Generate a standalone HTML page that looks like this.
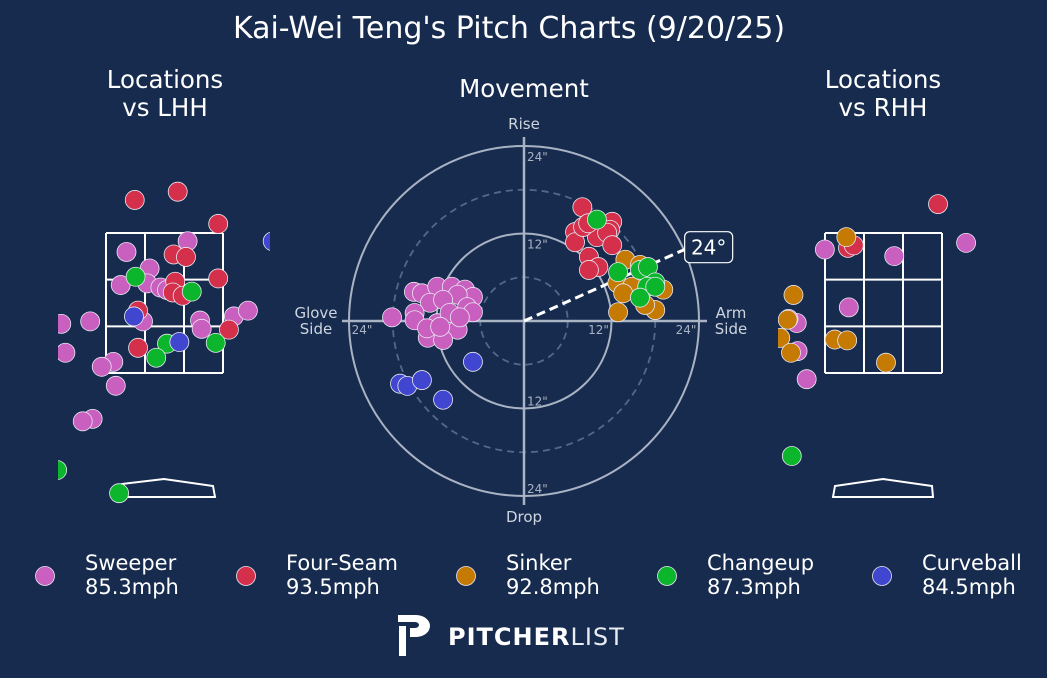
<!DOCTYPE html>
<html><head><meta charset="utf-8"><style>
body{margin:0;background:#162b4e;width:1047px;height:673px;overflow:hidden;font-family:"Liberation Sans","DejaVu Sans",sans-serif}
svg text{font-family:"DejaVu Sans","Liberation Sans",sans-serif}
</style></head><body>
<svg id="c" width="1047" height="673" viewBox="0 0 1047 673">
<defs>
<clipPath id="clipL"><rect x="58" y="130" width="212" height="400"/></clipPath>
<clipPath id="clipR"><rect x="778" y="130" width="215" height="400"/></clipPath>
</defs>
<text x="509" y="38" fill="#fff" font-size="30" text-anchor="middle">Kai-Wei Teng's Pitch Charts (9/20/25)</text>
<text x="165" y="88" fill="#fff" font-size="24.5" text-anchor="middle">Locations</text>
<text x="165" y="116" fill="#fff" font-size="24.5" text-anchor="middle">vs LHH</text>
<text x="883" y="88" fill="#fff" font-size="24.5" text-anchor="middle">Locations</text>
<text x="883" y="116" fill="#fff" font-size="24.5" text-anchor="middle">vs RHH</text>
<text x="524" y="97" fill="#fff" font-size="24.5" text-anchor="middle">Movement</text>
<g id="mov"></g>
<g id="locL" clip-path="url(#clipL)"></g>
<g id="locR" clip-path="url(#clipR)"></g>
<g id="legend"></g>
<g>
<path d="M398 615 h18 a14 11 0 0 1 0 22 h-6 v-9 h5 a4 3 0 0 0 0 -6 h-17 z M399 626 h7 v30 h-7 z" fill="#fff"/>
<text x="448" y="645" fill="#fff" font-size="24" font-weight="bold" letter-spacing="1">PITCHER<tspan font-weight="normal" fill="#e8ecf2">LIST</tspan></text>
</g>
</svg>
<script>
const NS="http://www.w3.org/2000/svg";
const pitchTypes=["Sweeper","Four-Seam","Sinker","Changeup","Curveball"];
const pitchSpeeds=["85.3mph","93.5mph","92.8mph","87.3mph","84.5mph"];
const pitchColors=["#c95fbf","#d4304b","#c47a03","#0bb52c","#4046d0"];
// movement in inches [horizontal, vertical]
const movSweeper=[[-18.1,0.5],[-15.1,4.0],[-14.0,3.8],[-11.9,4.7],[-9.9,4.7],[-8.1,4.3],[-7.0,3.3],[-9.1,3.6],[-12.9,2.5],[-11.1,2.9],[-15.0,1.1],[-15.0,0.1],[-11.9,-0.3],[-10.2,1.1],[-7.8,1.9],[-7.0,1.2],[-9.1,-1.2],[-13.2,-2.3],[-11.1,-2.6],[-13.3,-1.0],[-11.5,-0.8],[-8.8,0.5]];
const movFourSeam=[[8.0,15.6],[12.1,13.6],[11.8,12.5],[7.0,12.2],[7.0,10.8],[10.0,11.5],[11.4,12.1],[8.1,12.9],[12.1,10.4],[8.9,8.8],[10.2,7.4],[8.9,7.0],[8.8,13.4]];
const movSinker=[[13.9,8.4],[15.9,7.7],[12.8,5.2],[14.8,4.7],[13.6,3.8],[19.1,4.3],[12.9,1.2],[18.0,1.5],[16.6,2.2]];
const movChangeup=[[10.0,13.9],[12.9,6.7],[15.9,7.0],[17.0,7.4],[18.0,5.3],[16.9,4.7],[15.9,3.2],[18.0,4.7]];
const movCurveball=[[-7.0,-5.6],[-17.0,-8.6],[-16.0,-8.9],[-14.0,-8.1],[-11.1,-10.8]];
const armAngle=24;
const ringTicks=["12\"","24\""];
// locations in feet [plate_x, plate_z]
const lhhSweeper=[[0.28,3.3],[-0.46,3.17],[-0.18,2.97],[-0.21,2.79],[-0.53,2.77],[-0.05,2.74],[0.03,2.71],[-1.25,2.3],[-0.9,2.33],[-0.26,2.33],[0.43,2.34],[0.45,2.24],[0.84,2.39],[1.01,2.46],[-1.2,1.95],[-0.62,1.84],[-0.76,1.78],[-0.59,1.55],[-0.87,1.15],[-0.99,1.12]];
const lhhFourSeam=[[-0.36,3.8],[0.16,3.9],[0.65,3.51],[0.11,3.14],[0.26,3.11],[0.65,2.85],[0.13,2.81],[0.1,2.68],[0.22,2.64],[-0.32,2.46],[0.78,2.23],[-0.32,2.01]];
const lhhSinker=[];
const lhhChangeup=[[-0.35,2.87],[0.33,2.69],[0.03,2.06],[-0.1,1.89],[0.62,2.07],[-1.3,0.53],[-0.55,0.25]];
const lhhCurveball=[[-0.37,2.39],[0.18,2.08],[1.31,3.3]];
const rhhSweeper=[[-0.71,3.2],[1.0,3.28],[0.13,3.12],[-0.42,2.5],[-1.05,2.31],[-1.15,2.36],[-1.04,1.97],[-0.93,1.63]];
const rhhFourSeam=[[0.66,3.75],[-0.43,3.22],[-0.36,3.25]];
const rhhSinker=[[-0.45,3.35],[-1.09,2.65],[-1.16,2.35],[-1.25,2.13],[-1.12,1.95],[-0.59,2.11],[-0.44,2.1],[0.03,1.83]];
const rhhChangeup=[[-1.11,0.7]];
const rhhCurveball=[];

function el(tag,attrs,parent){const e=document.createElementNS(NS,tag);for(const k in attrs)e.setAttribute(k,attrs[k]);parent.appendChild(e);return e;}

const mov=document.getElementById('mov');
const cx=524,cy=321,R=175,maxIn=24;
const mx=v=>cx+v/maxIn*R, my=v=>cy-v/maxIn*R;
[6,12,18,24].forEach((r,i)=>{
  const c=el('circle',{cx:cx,cy:cy,r:r/maxIn*R,fill:'none',stroke:i%2?'#aab3c3':'#55688a','stroke-width':i%2?2:1.8,'stroke-dasharray':i%2?'none':'7 5'},mov);
  
  
});
let a=el('line',{x1:cx,y1:137,x2:cx,y2:505,stroke:'#aab3c3','stroke-width':2.5},mov);

a=el('line',{x1:342,y1:cy,x2:707,y2:cy,stroke:'#aab3c3','stroke-width':2.5},mov);

const tickStyle={fill:'#aab3c3','font-size':12};
[12,24].forEach((v,i)=>{
  const lab=ringTicks[i];
  [[cx+3,my(v)+15,'start'],[cx+3,my(-v)-3,'start'],[mx(v)-13,cy+13,'middle'],[mx(-v)+13,cy+13,'middle']].forEach((p,j)=>{
    if(j==3&&v==12)return;
    const t=el('text',Object.assign({x:p[0],y:p[1],'text-anchor':p[2]},tickStyle),mov);t.textContent=lab;
    
  });
});
[["Rise",524,129,'middle'],["Drop",524,522,'middle'],["Glove",316,318,'middle'],["Side",316,334,'middle'],["Arm",731,318,'middle'],["Side",731,334,'middle']].forEach(d=>{
  const t=el('text',{x:d[1],y:d[2],'text-anchor':d[3],fill:'#cfd5df','font-size':15},mov);t.textContent=d[0];
  
});
const rad=armAngle*Math.PI/180;
const ex=cx+Math.cos(rad)*R*1.03, ey=cy-Math.sin(rad)*R*1.03;
a=el('line',{x1:cx,y1:cy,x2:ex,y2:ey,stroke:'#fff','stroke-width':3,'stroke-dasharray':'9 5'},mov);

a=el('rect',{x:ex-4,y:ey-16,width:48,height:31,rx:5,fill:'#162b4e',stroke:'#fff','stroke-width':1.2},mov);

a=el('text',{x:ex+20,y:ey+7,'text-anchor':'middle',fill:'#fff','font-size':20},mov);a.textContent=armAngle+'°';


function dots(parent,arr,color,fx,fy,name){
  arr.forEach(p=>{
    const c=el('circle',{cx:fx(p[0]),cy:fy(p[1]),r:9.5,fill:color,stroke:'#e8e8f0','stroke-width':0.8},parent);
    
    
  });
}
[movSweeper,movFourSeam,movSinker,movChangeup,movCurveball].forEach((arr,i)=>dots(mov,arr,pitchColors[i],mx,my,'movement-point-'+pitchTypes[i].toLowerCase()));

const PPF=82.6, zTop=3.4;
function locChart(gid,centerX,sets,plate){
  const g=document.getElementById(gid);
  const lx=v=>centerX+v*PPF, ly=v=>233+(zTop-v)*PPF;
  const zw=117,zh=140,x0=centerX-58.5;
  for(let i=0;i<=3;i++){
    let l=el('line',{x1:x0+i*zw/3,y1:233,x2:x0+i*zw/3,y2:373,stroke:'#fff','stroke-width':2},g);
    
    l=el('line',{x1:x0,y1:233+i*zh/3,x2:x0+zw,y2:233+i*zh/3,stroke:'#fff','stroke-width':2},g);
    
  }
  const p=el('polygon',{points:plate,fill:'none',stroke:'#fff','stroke-width':2},g);
  
  sets.forEach((arr,i)=>dots(g,arr,pitchColors[i],lx,ly,gid+'-point-'+pitchTypes[i].toLowerCase()));
}
locChart('locL',164.5,[lhhSweeper,lhhFourSeam,lhhSinker,lhhChangeup,lhhCurveball],"119,497 215,497 213,486 164,479 122,484");
locChart('locR',883.5,[rhhSweeper,rhhFourSeam,rhhSinker,rhhChangeup,rhhCurveball],"833,497 933,497 932,486 883,479 835,486");

const lg=document.getElementById('legend');
const legX=[45,246,466,667,882];
pitchTypes.forEach((n,i)=>{
  const c=el('circle',{cx:legX[i],cy:576,r:9.5,fill:pitchColors[i],stroke:'#e8e8f0','stroke-width':0.8},lg);
  
  
  const t=el('text',{x:legX[i]+40,y:570,fill:'#fff','font-size':21},lg);t.textContent=n;
  
  
  const s=el('text',{x:legX[i]+40,y:594,fill:'#fff','font-size':21},lg);s.textContent=pitchSpeeds[i];
  
  
});
</script>
</body></html>
